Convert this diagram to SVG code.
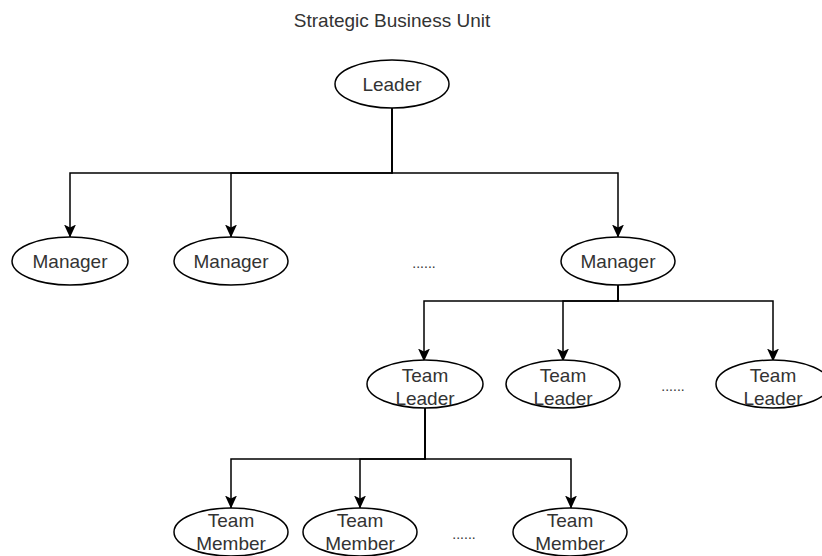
<svg xmlns="http://www.w3.org/2000/svg" width="822" height="556" viewBox="0 0 822 556">
<style>
.node ellipse{fill:#fff;stroke:#000;stroke-width:1.5}
text{font-family:"Liberation Sans",Arial,sans-serif;font-size:19px;fill:#333;text-anchor:middle}
.edge{fill:none;stroke:#000;stroke-width:1.5;marker-end:url(#arr)}
.dots{font-size:14px}
</style>
<defs>
<marker id="arr" viewBox="0 0 13 12" refX="12.5" refY="6" markerWidth="13" markerHeight="12" markerUnits="userSpaceOnUse" orient="auto">
<path d="M0,0 L13,6 L0,12 L3,6 Z" fill="#000"/>
</marker>
</defs>
<rect width="822" height="556" fill="#fff"/>
<text x="392" y="27">Strategic Business Unit</text>
<g id="connectors">
<path class="edge" d="M392,108 V173 H70 V237"/>
<path class="edge" d="M392,108 V173 H231 V237"/>
<path class="edge" d="M392,108 V173 H618 V237"/>
<path class="edge" d="M618,285 V301 H424 V361"/>
<path class="edge" d="M618,285 V301 H563 V361"/>
<path class="edge" d="M618,285 V301 H773 V361"/>
<path class="edge" d="M425,408 V459 H231 V508"/>
<path class="edge" d="M425,408 V459 H360 V508"/>
<path class="edge" d="M425,408 V459 H571 V508"/>
</g>
<g id="leader" class="node"><ellipse cx="392" cy="84" rx="57" ry="24"/><text x="392" y="91">Leader</text></g>
<g id="manager1" class="node"><ellipse cx="70" cy="261" rx="58" ry="24"/><text x="70" y="268">Manager</text></g>
<g id="manager2" class="node"><ellipse cx="231" cy="261" rx="57" ry="24"/><text x="231" y="268">Manager</text></g>
<g id="manager3" class="node"><ellipse cx="618" cy="261" rx="57" ry="24"/><text x="618" y="268">Manager</text></g>
<g id="dots1"><text class="dots" x="424" y="268">......</text></g>
<g id="teamleader1" class="node"><ellipse cx="425" cy="384" rx="58" ry="24"/><text x="425" y="382">Team</text><text x="425" y="405">Leader</text></g>
<g id="teamleader2" class="node"><ellipse cx="563" cy="384" rx="57" ry="24"/><text x="563" y="382">Team</text><text x="563" y="405">Leader</text></g>
<g id="dots2"><text class="dots" x="673" y="391">......</text></g>
<g id="teamleader3" class="node"><ellipse cx="773" cy="384" rx="57" ry="24"/><text x="773" y="382">Team</text><text x="773" y="405">Leader</text></g>
<g id="teammember1" class="node"><ellipse cx="231" cy="532" rx="57" ry="24"/><text x="231" y="527">Team</text><text x="231" y="550">Member</text></g>
<g id="teammember2" class="node"><ellipse cx="360" cy="532" rx="57" ry="24"/><text x="360" y="527">Team</text><text x="360" y="550">Member</text></g>
<g id="dots3"><text class="dots" x="464" y="539">......</text></g>
<g id="teammember3" class="node"><ellipse cx="570" cy="532" rx="57" ry="24"/><text x="570" y="527">Team</text><text x="570" y="550">Member</text></g>
</svg>
